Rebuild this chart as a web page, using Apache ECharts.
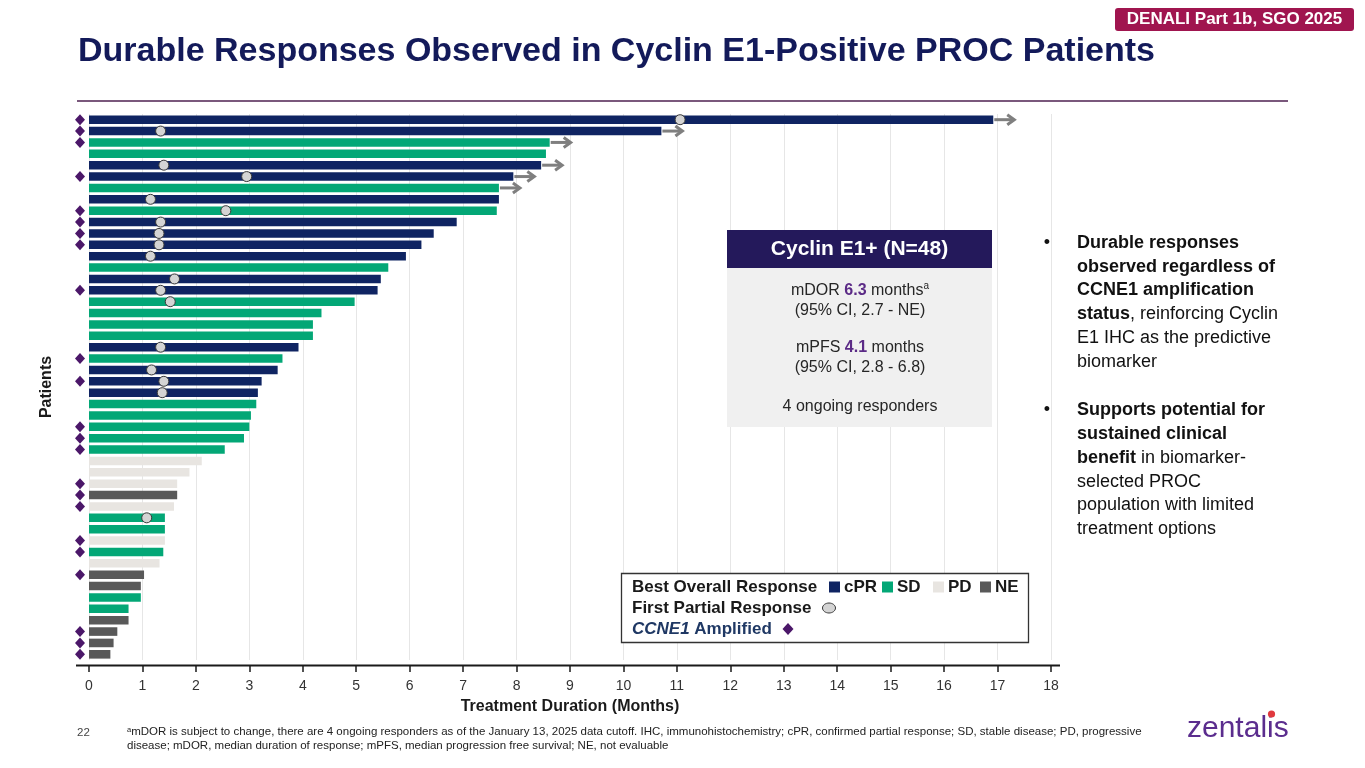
<!DOCTYPE html>
<html>
<head>
<meta charset="utf-8">
<title>Durable Responses Observed in Cyclin E1-Positive PROC Patients</title>
<script src="https://cdn.jsdelivr.net/npm/echarts@6/dist/echarts.min.js"></script>
<style>
  html, body { margin: 0; padding: 0; background: #fff; }
  #chart { width: 1365px; height: 768px; }
</style>
</head>
<body>
<div id="chart"></div>
<script>
/* Swimmer plot — Cyclin E1+ PROC, N=48 (patient 1 = top bar) */

// treatment duration in months, top to bottom
var durations = [16.92, 10.71, 8.62, 8.55, 8.46, 7.94, 7.67, 7.67, 7.63, 6.88,
                 6.45, 6.22, 5.93, 5.60, 5.46, 5.40, 4.97, 4.35, 4.19, 4.19,
                 3.92, 3.62, 3.53, 3.23, 3.16, 3.13, 3.03, 3.00, 2.90, 2.54,
                 2.11, 1.88, 1.65, 1.65, 1.59, 1.42, 1.42, 1.42, 1.39, 1.32,
                 1.03, 0.97, 0.97, 0.74, 0.74, 0.53, 0.46, 0.40];

// best overall response per patient
var responses = ['cPR', 'cPR', 'SD', 'SD', 'cPR', 'cPR', 'SD', 'cPR', 'SD', 'cPR',
                 'cPR', 'cPR', 'cPR', 'SD', 'cPR', 'cPR', 'SD', 'SD', 'SD', 'SD',
                 'cPR', 'SD', 'cPR', 'cPR', 'cPR', 'SD', 'SD', 'SD', 'SD', 'SD',
                 'PD', 'PD', 'PD', 'NE', 'PD', 'SD', 'SD', 'PD', 'SD', 'PD',
                 'NE', 'NE', 'SD', 'SD', 'NE', 'NE', 'NE', 'NE'];

// CCNE1 amplified (patient numbers)
var amplified = [1, 2, 3, 6, 9, 10, 11, 12, 16, 22, 24, 28, 29, 30, 33, 34, 35, 38, 39, 41, 46, 47, 48];

// first partial response: patient number and month
var firstPRPatients = [1, 2, 5, 6, 8, 9, 10, 11, 12, 13, 15, 16, 17, 21, 23, 24, 25, 36];
var firstPRMonths   = [11.06, 1.34, 1.40, 2.95, 1.15, 2.56, 1.34, 1.31, 1.31, 1.15, 1.60, 1.34, 1.52, 1.34, 1.17, 1.40, 1.37, 1.08];

// still on treatment (arrow)
var ongoing = [1, 2, 3, 5, 6, 7];

var FONT = '"Liberation Sans", Arial, sans-serif';
var respColors = { cPR: '#0f2462', SD: '#03a776', PD: '#e8e5e1', NE: '#595959' };
var purple = '#4b1769';

var patients = durations.map(function(d, i) { return String(i + 1); });

function tok(size, weight, color, extra) {
  var s = { fontSize: size, fontWeight: weight, fontFamily: FONT, fill: color, color: color };
  if (extra) for (var k in extra) s[k] = extra[k];
  return s;
}

function txt(x, y, text, size, weight, color, align, rich, lh) {
  var st = {
    text: text, x: x, y: y, fontSize: size, fontWeight: weight, fontFamily: FONT,
    fill: color, textAlign: align || 'left', align: align || 'left',
    textVerticalAlign: 'middle', verticalAlign: 'middle'
  };
  if (rich) st.rich = rich;
  if (lh) st.lineHeight = lh;
  return { type: 'text', z: 10, style: st };
}

var chart = echarts.init(document.getElementById('chart'));

var bodyRich = {
  n: tok(16, 'normal', '#262626', { lineHeight: 18 }),
  p: tok(16, 'bold', '#5b2a86', { lineHeight: 18 }),
  s: tok(10, 'normal', '#262626', { lineHeight: 18, verticalAlign: 'top' })
};

var bulletRich = {
  b: tok(18, 'bold', '#111', { lineHeight: 23.8 }),
  n: tok(18, 'normal', '#111', { lineHeight: 23.8 })
};

var graphics = [
  // title + rule
  txt(78, 52, 'Durable Responses Observed in Cyclin E1-Positive PROC Patients', 34, 'bold', '#131a5a'),
  { type: 'line', shape: { x1: 77, y1: 101, x2: 1288, y2: 101 }, style: { stroke: '#4e2150', lineWidth: 1.5 } },
  // badge
  { type: 'rect', shape: { x: 1115, y: 8, width: 239, height: 23, r: 3 }, style: { fill: '#a0154f' } },
  txt(1234.5, 19.8, 'DENALI Part 1b, SGO 2025', 17, 'bold', '#fff', 'center'),
  // x axis baseline (slightly longer than the plot)
  { type: 'line', z: 5, shape: { x1: 76, y1: 665.5, x2: 1060, y2: 665.5 }, style: { stroke: '#1a1a1a', lineWidth: 2 } },
  // summary box
  { type: 'rect', z: 8, shape: { x: 727, y: 230, width: 265, height: 38 }, style: { fill: '#24195b' } },
  { type: 'rect', z: 8, shape: { x: 727, y: 268, width: 265, height: 159 }, style: { fill: '#f0f0f0' } },
  txt(859.5, 249.5, 'Cyclin E1+ (N=48)', 21, 'bold', '#fff', 'center'),
  txt(860, 290.7, '{n|mDOR }{p|6.3}{n| months}{s|a}', 16, 'normal', '#262626', 'center', bodyRich),
  txt(860, 310.7, '(95% CI, 2.7 - NE)', 16, 'normal', '#262626', 'center'),
  txt(860, 348, '{n|mPFS }{p|4.1}{n| months}', 16, 'normal', '#262626', 'center', bodyRich),
  txt(860, 368, '(95% CI, 2.8 - 6.8)', 16, 'normal', '#262626', 'center'),
  txt(860, 406.7, '4 ongoing responders', 16, 'normal', '#262626', 'center'),
  // bullets
  txt(1047, 242.7, '\u2022', 18, 'normal', '#111', 'center'),
  { type: 'text', z: 10, style: {
      x: 1077, y: 231, textVerticalAlign: 'top', verticalAlign: 'top', rich: bulletRich,
      fontSize: 18, fontFamily: FONT, fill: '#111', lineHeight: 23.8,
      text: '{b|Durable responses}\n{b|observed regardless of}\n{b|CCNE1 amplification}\n{b|status}{n|, reinforcing Cyclin}\n{n|E1 IHC as the predictive}\n{n|biomarker}'
  } },
  txt(1047, 410, '\u2022', 18, 'normal', '#111', 'center'),
  { type: 'text', z: 10, style: {
      x: 1077, y: 398.3, textVerticalAlign: 'top', verticalAlign: 'top', rich: bulletRich,
      fontSize: 18, fontFamily: FONT, fill: '#111', lineHeight: 23.8,
      text: '{b|Supports potential for}\n{b|sustained clinical}\n{b|benefit}{n| in biomarker-}\n{n|selected PROC}\n{n|population with limited}\n{n|treatment options}'
  } },
  // legend box
  { type: 'rect', z: 8, shape: { x: 621.5, y: 573.5, width: 407, height: 69 }, style: { fill: '#fff', stroke: '#333', lineWidth: 1.3 } },
  txt(632, 587, 'Best Overall Response', 17, 'bold', '#1a1a1a'),
  { type: 'rect', z: 10, shape: { x: 829, y: 581.5, width: 11, height: 11 }, style: { fill: respColors.cPR } },
  txt(844, 587, 'cPR', 17, 'bold', '#1a1a1a'),
  { type: 'rect', z: 10, shape: { x: 882, y: 581.5, width: 11, height: 11 }, style: { fill: respColors.SD } },
  txt(897, 587, 'SD', 17, 'bold', '#1a1a1a'),
  { type: 'rect', z: 10, shape: { x: 933, y: 581.5, width: 11, height: 11 }, style: { fill: respColors.PD } },
  txt(948, 587, 'PD', 17, 'bold', '#1a1a1a'),
  { type: 'rect', z: 10, shape: { x: 980, y: 581.5, width: 11, height: 11 }, style: { fill: respColors.NE } },
  txt(995, 587, 'NE', 17, 'bold', '#1a1a1a'),
  txt(632, 608, 'First Partial Response', 17, 'bold', '#1a1a1a'),
  { type: 'ellipse', z: 10, shape: { cx: 829, cy: 608, rx: 6.5, ry: 5 }, style: { fill: '#d4d4d4', stroke: '#3a3a3a', lineWidth: 1 } },
  txt(632, 629, '{i|CCNE1}{b| Amplified}', 17, 'bold', '#1f3864', 'left', {
    i: tok(17, 'bold', '#1f3864', { fontStyle: 'italic' }),
    b: tok(17, 'bold', '#1f3864')
  }),
  { type: 'polygon', z: 10, shape: { points: [[788, 623], [793.5, 629], [788, 635], [782.5, 629]] }, style: { fill: purple } },
  // footer
  txt(77, 733, '22', 11.5, 'normal', '#444'),
  txt(127, 732, '{s|a}{t|mDOR is subject to change, there are 4 ongoing responders as of the January 13, 2025 data cutoff. IHC, immunohistochemistry; cPR, confirmed partial response; SD, stable disease; PD, progressive}', 11.5, 'normal', '#222', 'left', {
    s: tok(7.5, 'normal', '#222', { verticalAlign: 'top', lineHeight: 13 }),
    t: tok(11.5, 'normal', '#222', { lineHeight: 13 })
  }),
  txt(127, 746, 'disease; mDOR, median duration of response; mPFS, median progression free survival; NE, not evaluable', 11.5, 'normal', '#222'),
  txt(1187, 729, 'zentalis', 30, 'normal', '#5b2d8e'),
  { type: 'circle', z: 11, shape: { cx: 1271.5, cy: 714, r: 3.6 }, style: { fill: '#e0393e' } }
];

var option = {
  backgroundColor: '#fff',
  animation: false,
  textStyle: { fontFamily: FONT },
  grid: { left: 89, right: 314, top: 114, bottom: 108 },
  xAxis: {
    type: 'value', min: 0, max: 18, interval: 1, offset: 5,
    axisLine: { show: false },
    axisTick: { show: true, length: 7, lineStyle: { color: '#1a1a1a', width: 1.5 } },
    axisLabel: { color: '#333', fontSize: 14, margin: 14, fontFamily: FONT },
    splitLine: { show: true, lineStyle: { color: '#e6e6e6', width: 1 } },
    name: 'Treatment Duration (Months)', nameLocation: 'middle', nameGap: 34,
    nameTextStyle: { fontSize: 16, fontWeight: 'bold', color: '#1a1a1a', fontFamily: FONT }
  },
  yAxis: {
    type: 'category', data: patients, inverse: true,
    axisLine: { show: false }, axisTick: { show: false }, axisLabel: { show: false },
    splitLine: { show: false },
    name: 'Patients', nameLocation: 'middle', nameGap: 34,
    nameTextStyle: { fontSize: 16, fontWeight: 'bold', color: '#1a1a1a', fontFamily: FONT }
  },
  series: [
    {
      type: 'bar', barWidth: 8.6, z: 2,
      data: durations.map(function(v, i) {
        return { value: v, itemStyle: { color: respColors[responses[i]] } };
      })
    },
    {
      type: 'custom', z: 3, clip: false,
      encode: { x: 0, y: 1 },
      data: ongoing.map(function(p) { return [durations[p - 1], p - 1]; }),
      renderItem: function(params, api) {
        var pt = api.coord([api.value(0), api.value(1)]);
        var x0 = pt[0] + 1, x1 = pt[0] + 21, y = pt[1];
        var st = { stroke: '#7f7f7f', lineWidth: 3, fill: null };
        return {
          type: 'group',
          children: [
            { type: 'line', shape: { x1: x0, y1: y, x2: x1 - 1, y2: y }, style: st },
            { type: 'polyline', shape: { points: [[x1 - 7, y - 5], [x1, y], [x1 - 7, y + 5]] }, style: st }
          ]
        };
      }
    },
    {
      type: 'scatter', z: 4, clip: false,
      symbol: 'circle', symbolSize: 10,
      itemStyle: { color: '#d4d4d4', borderColor: '#3a3a3a', borderWidth: 1, opacity: 1 },
      data: firstPRPatients.map(function(p, k) { return [firstPRMonths[k], p - 1]; })
    },
    {
      type: 'scatter', z: 4, clip: false,
      symbol: 'diamond', symbolSize: [10, 11], symbolOffset: [-9, 0],
      itemStyle: { color: purple, opacity: 1 },
      data: amplified.map(function(p) { return [0, p - 1]; })
    }
  ],
  graphic: graphics
};

chart.setOption(option);
</script>
</body>
</html>
